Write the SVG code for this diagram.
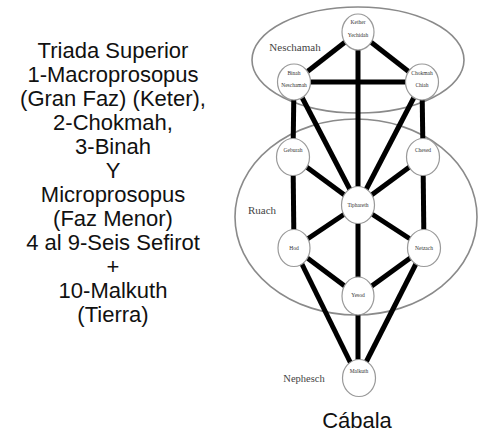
<svg xmlns="http://www.w3.org/2000/svg" width="480" height="433" viewBox="0 0 480 433">
<style>
.side{font-family:"Liberation Sans",Arial,sans-serif;font-size:22px;fill:#111;text-anchor:middle}
.region{fill:none;stroke:#8a8a8a;stroke-width:1.6}
.rl{font-family:"Liberation Serif","Times New Roman",serif;fill:#444}
.node ellipse{fill:#fff;stroke:#999;stroke-width:1.2}
.node text{font-family:"Liberation Serif","Times New Roman",serif;font-size:5.5px;fill:#333;text-anchor:middle}
#connectors line{stroke:#000;stroke-width:5}
</style>
<rect width="480" height="433" fill="#fff"/>
<g id="left-text">
<text class="side" x="113" y="58">Triada Superior</text>
<text class="side" x="113" y="82">1-Macroprosopus</text>
<text class="side" x="113" y="106">(Gran Faz) (Keter),</text>
<text class="side" x="113" y="130">2-Chokmah,</text>
<text class="side" x="113" y="154">3-Binah</text>
<text class="side" x="113" y="178">Y</text>
<text class="side" x="113" y="202">Microprosopus</text>
<text class="side" x="113" y="226">(Faz Menor)</text>
<text class="side" x="113" y="250">4 al 9-Seis Sefirot</text>
<text class="side" x="113" y="274">+</text>
<text class="side" x="113" y="298">10-Malkuth</text>
<text class="side" x="113" y="322">(Tierra)</text>
</g>
<g id="regions">
<ellipse class="region" cx="358" cy="60" rx="106" ry="53"/>
<ellipse class="region" cx="356" cy="217" rx="121" ry="98"/>
<text class="rl" x="295" y="51" font-size="11" text-anchor="middle">Neschamah</text>
<text class="rl" x="262" y="214" font-size="11" text-anchor="middle">Ruach</text>
<text class="rl" x="304" y="382" font-size="10.5" text-anchor="middle" fill="#555">Nephesch</text>
</g>
<g id="connectors">
<line x1="358" y1="32" x2="294" y2="82"/>
<line x1="358" y1="32" x2="422" y2="82"/>
<line x1="358" y1="32" x2="358" y2="205"/>
<line x1="294" y1="82" x2="422" y2="82"/>
<line x1="294" y1="82" x2="293" y2="157"/>
<line x1="422" y1="82" x2="423" y2="157"/>
<line x1="294" y1="82" x2="358" y2="205"/>
<line x1="422" y1="82" x2="358" y2="205"/>
<line x1="293" y1="157" x2="358" y2="205"/>
<line x1="423" y1="157" x2="358" y2="205"/>
<line x1="293" y1="157" x2="294" y2="248"/>
<line x1="423" y1="157" x2="424" y2="248"/>
<line x1="358" y1="205" x2="294" y2="248"/>
<line x1="358" y1="205" x2="424" y2="248"/>
<line x1="358" y1="205" x2="358" y2="296"/>
<line x1="294" y1="248" x2="358" y2="296"/>
<line x1="424" y1="248" x2="358" y2="296"/>
<line x1="294" y1="248" x2="358" y2="378"/>
<line x1="424" y1="248" x2="358" y2="378"/>
<line x1="358" y1="296" x2="358" y2="378"/>
</g>
<g id="kether" class="node"><ellipse cx="358" cy="32" rx="16" ry="18"/><text x="358" y="24">Kether</text><text x="358" y="37">Yechidah</text></g>
<g id="binah" class="node"><ellipse cx="294" cy="82" rx="16.5" ry="18"/><text x="294" y="75">Binah</text><text x="294" y="87">Neschamah</text></g>
<g id="chokmah" class="node"><ellipse cx="422" cy="82" rx="16.5" ry="18"/><text x="422" y="75">Chokmah</text><text x="422" y="87">Chiah</text></g>
<g id="geburah" class="node"><ellipse cx="293" cy="157" rx="16.5" ry="18.5"/><text x="293" y="152">Geburah</text></g>
<g id="chesed" class="node"><ellipse cx="423" cy="157" rx="16.5" ry="18.5"/><text x="423" y="152">Chesed</text></g>
<g id="tiphareth" class="node"><ellipse cx="358" cy="205" rx="16.5" ry="18.5"/><text x="358" y="207">Tiphareth</text></g>
<g id="hod" class="node"><ellipse cx="294" cy="248" rx="16" ry="18.5"/><text x="294" y="250">Hod</text></g>
<g id="netzach" class="node"><ellipse cx="424" cy="248" rx="16.5" ry="18.5"/><text x="424" y="250">Netzach</text></g>
<g id="yesod" class="node"><ellipse cx="358" cy="296" rx="16" ry="19"/><text x="358" y="297">Yesod</text></g>
<g id="malkuth" class="node"><ellipse cx="359" cy="378" rx="16.5" ry="18.5"/><text x="359" y="373">Malkuth</text></g>
<text class="side" x="357" y="428">Cábala</text>
</svg>
